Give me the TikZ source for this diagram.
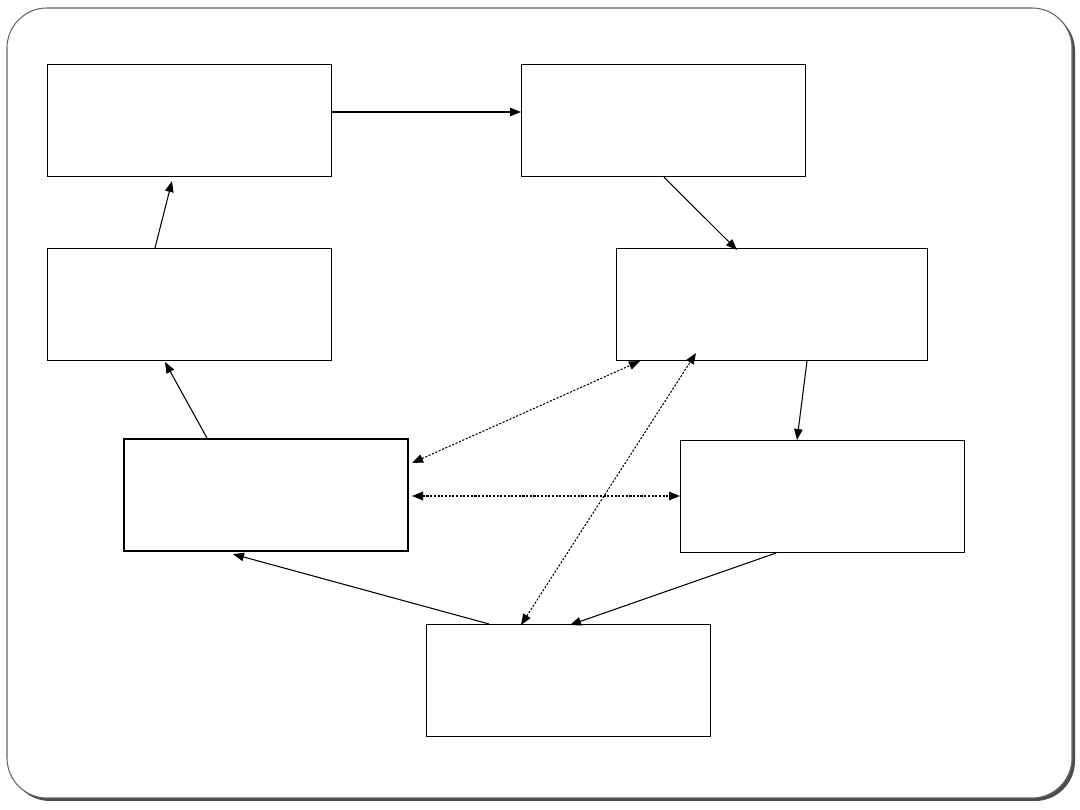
\documentclass[tikz,border=0pt]{standalone}
\usetikzlibrary{arrows.meta,calc}
\begin{document}
\begin{tikzpicture}[x=0.02cm,y=-0.02cm,
  box/.style={draw,line width=0.6pt,rectangle,inner sep=0pt,minimum width=5.68cm,minimum height=2.24cm,anchor=north west},
  conn/.style={line width=0.6pt,-{Triangle[length=0.22cm,width=0.17cm]}},
  dconn/.style={line width=0.6pt,dash pattern=on 1.2pt off 0.9pt,{Triangle[length=0.22cm,width=0.17cm]}-{Triangle[length=0.22cm,width=0.17cm]}}]
\useasboundingbox (0,0) rectangle (1080,810);
% frame with shadow
\fill[black!70,rounded corners=0.8cm] (10,11) rectangle (1075,801);
\draw[black!60,fill=white,line width=0.6pt,rounded corners=0.8cm] (7,8) rectangle (1072,798);
% boxes
\node[box] (A) at (47,64) {};
\node[box] (B) at (521,64) {};
\node[box] (C) at (47,248) {};
\node[box,minimum width=6.22cm] (D) at (616,248) {};
\node[box,line width=1.2pt] (E) at (123,438) {};
\node[box] (F) at (680,440) {};
\node[box] (G) at (426,624) {};
% connectors
\draw[conn] ($(A.north east)+(0,48)$) -- ($(B.north west)+(0,48)$);
\draw[conn] ($(B.south west)+(143,0)$) -- ($(D.north west)+(121,2)$);
\draw[conn] ($(D.south west)+(191,0)$) -- ($(F.north west)+(117,0)$);
\draw[conn] ($(F.south west)+(96,0)$) -- ($(G.north west)+(144,1)$);
\draw[conn] ($(G.north west)+(63,0)$) -- ($(E.south west)+(110,2)$);
\draw[conn] ($(E.north west)+(84,0)$) -- ($(C.south west)+(118,1)$);
\draw[conn] ($(C.north west)+(108,0)$) -- ($(A.south west)+(125,4)$);
\draw[dconn] ($(E.north east)+(3,25)$) -- ($(D.south west)+(24,0)$);
\draw[dconn] ($(E.north east)+(3,58)$) -- ($(F.north west)+(0,56)$);
\draw[dconn] ($(G.north west)+(95,1)$) -- ($(D.south west)+(80,-8)$);
\end{tikzpicture}
\end{document}
